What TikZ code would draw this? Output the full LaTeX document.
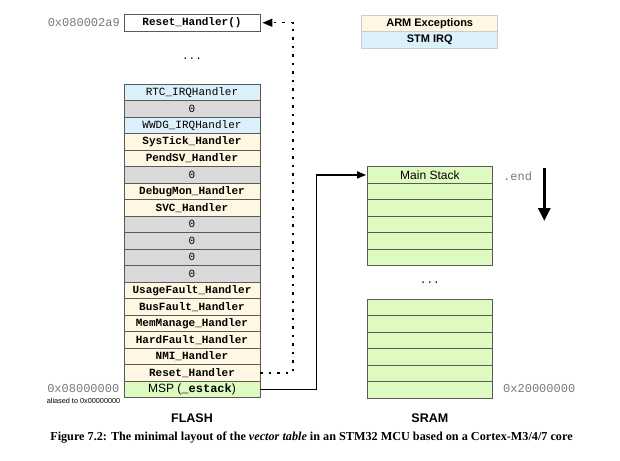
\documentclass[tikz,border=0pt]{standalone}
\usepackage{fontspec}
\setmainfont{Liberation Serif}
\setsansfont{Liberation Sans}
\setmonofont{Liberation Mono}
\usetikzlibrary{arrows.meta}
\definecolor{armc}{HTML}{FFF7E1}
\definecolor{stmc}{HTML}{DCF0FB}
\definecolor{zeroc}{HTML}{D9D9D9}
\definecolor{stackc}{HTML}{DDFAC0}
\definecolor{bordc}{HTML}{5A5A5A}
\definecolor{legbord}{HTML}{CCCCCC}
\definecolor{addrc}{HTML}{7A7A7A}
\begin{document}
\begin{tikzpicture}[x=1pt,y=-1pt,
 cell/.style={draw=bordc, line width=0.8pt, minimum width=136pt, minimum height=16.5pt, inner sep=0pt, anchor=center},
 arm/.style={cell, fill=armc, font=\fontsize{11}{11}\selectfont\ttfamily\bfseries},
 stm/.style={cell, fill=stmc, font=\fontsize{11}{11}\selectfont\ttfamily},
 zero/.style={cell, fill=zeroc, font=\fontsize{11}{11}\selectfont\ttfamily},
 stk/.style={cell, fill=stackc, minimum width=125.7pt, font=\fontsize{12}{12}\selectfont\sffamily},
 leg/.style={cell, draw=legbord, font=\fontsize{11}{11}\selectfont\sffamily\bfseries},
 addr/.style={font=\fontsize{12}{12}\selectfont\ttfamily, text=addrc, inner sep=0pt},
 ttl/.style={font=\fontsize{12.5}{12.5}\selectfont\sffamily\bfseries, inner sep=0pt},
 dotsl/.style={font=\fontsize{11}{11}\selectfont\ttfamily, inner sep=0pt},
 solidarrow/.style={line width=1.5pt, -{Triangle[length=9pt,width=7pt]}, shorten >=0.5pt},
 dotline/.style={line width=1.5pt, dash pattern=on 2.5pt off 6pt, -{Triangle[length=10pt,width=8pt]}, shorten >=2pt},
 ]
\useasboundingbox[fill=white] (0,0) rectangle (620,460);

% legend
\node[leg, fill=armc] (legarm) at (429.7,23.35) {ARM Exceptions};
\node[leg, fill=stmc] (legstm) at (429.7,40.0) {STM IRQ};

% Reset_Handler() target
\node[arm, fill=white] (rh) at (192,22.75) {Reset\_Handler()};
\node[addr, anchor=east] (a1) at (120,23) {0x080002a9};
\node[dotsl] (fdots) at (192,59) {...};

% vector table
\node[stm]  (r1)  at (192, 92.25) {RTC\_IRQHandler};
\node[zero] (r2)  at (192,108.75) {0};
\node[stm]  (r3)  at (192,125.25) {WWDG\_IRQHandler};
\node[arm]  (r4)  at (192,141.75) {SysTick\_Handler};
\node[arm]  (r5)  at (192,158.25) {PendSV\_Handler};
\node[zero] (r6)  at (192,174.75) {0};
\node[arm]  (r7)  at (192,191.25) {DebugMon\_Handler};
\node[arm]  (r8)  at (192,207.75) {SVC\_Handler};
\node[zero] (r9)  at (192,224.25) {0};
\node[zero] (r10) at (192,240.75) {0};
\node[zero] (r11) at (192,257.25) {0};
\node[zero] (r12) at (192,273.75) {0};
\node[arm]  (r13) at (192,290.25) {UsageFault\_Handler};
\node[arm]  (r14) at (192,306.75) {BusFault\_Handler};
\node[arm]  (r15) at (192,323.25) {MemManage\_Handler};
\node[arm]  (r16) at (192,339.75) {HardFault\_Handler};
\node[arm]  (r17) at (192,356.25) {NMI\_Handler};
\node[arm]  (r18) at (192,372.75) {Reset\_Handler};
\node[cell, fill=stackc, font=\fontsize{12}{12}\selectfont\sffamily] (r19) at (192,389.25) {MSP (\texttt{\bfseries\_estack})};
\node[addr, anchor=east] (a2) at (119.5,389) {0x08000000};
\node[anchor=east, inner sep=0pt, font=\fontsize{7.3}{7.3}\selectfont\sffamily] (alias) at (120.5,400.5) {aliased to 0x00000000};
\node[ttl] (flash) at (192,417.7) {FLASH};

% stack
\node[stk] (s1) at (429.85,174.95) {Main Stack};
\node[stk] (s2) at (429.85,191.45) {};
\node[stk] (s3) at (429.85,207.95) {};
\node[stk] (s4) at (429.85,224.45) {};
\node[stk] (s5) at (429.85,240.95) {};
\node[stk] (s6) at (429.85,257.45) {};
\node[dotsl] (sdots) at (429.85,282.5) {...};
\node[stk] (t1) at (429.85,307.55) {};
\node[stk] (t2) at (429.85,324.05) {};
\node[stk] (t3) at (429.85,340.55) {};
\node[stk] (t4) at (429.85,357.05) {};
\node[stk] (t5) at (429.85,373.55) {};
\node[stk] (t6) at (429.85,390.05) {};
\node[addr, anchor=west] (endl) at (503,176) {.end};
\node[addr, anchor=west] (a3) at (503,389) {0x20000000};
\node[ttl] (sram) at (429.85,417.7) {SRAM};

% arrows
\coordinate (bend) at (316.5,389.25);
\draw[solidarrow] (r19.east) -- (bend) |- (s1.west);
\coordinate (dbot) at (293,372.75);
\coordinate (dtop) at (293,22.75);
\draw[dotline] (r18.east) -- (dbot) -- (dtop) -- (rh.east);
\coordinate (da1) at (544.3,168);
\coordinate (da2) at (544.3,221);
\draw[line width=3pt, -{Triangle[length=13pt,width=12pt]}] (da1) -- (da2);

% caption
\node[font=\fontsize{12.2}{12.2}\selectfont\bfseries, inner sep=0pt] (cap) at (311.5,438)
 {Figure 7.2: The minimal layout of the \textit{vector table} in an STM32 MCU based on a Cortex-M3/4/7 core};
\end{tikzpicture}
\end{document}
